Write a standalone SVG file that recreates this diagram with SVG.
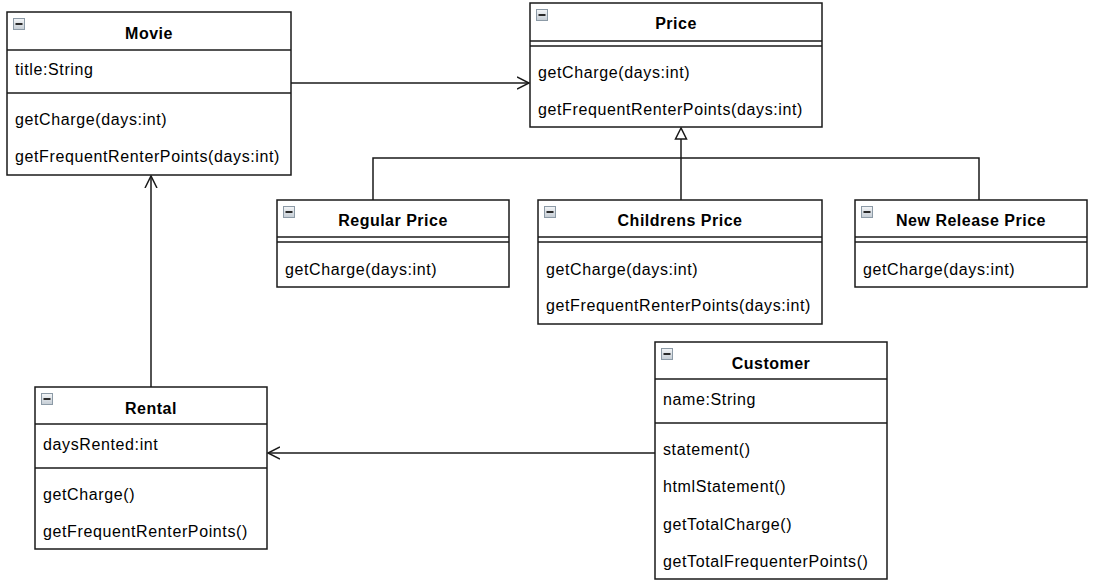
<svg xmlns="http://www.w3.org/2000/svg" width="1094" height="586" viewBox="0 0 1094 586">
<style>
.box{fill:#fff;stroke:#1a1a1a;stroke-width:1.5}
.sep{stroke:#1a1a1a;stroke-width:1.5;fill:none}
.t{font-family:"Liberation Sans",Arial,sans-serif;font-size:16px;letter-spacing:0.62px;fill:#000}
.h{font-family:"Liberation Sans",Arial,sans-serif;font-size:16px;letter-spacing:0.5px;font-weight:bold;fill:#000;text-anchor:middle}
.edge{stroke:#1a1a1a;stroke-width:1.5;fill:none}
</style>
<defs>
<linearGradient id="ig" x1="0" y1="0" x2="0" y2="1">
<stop offset="0" stop-color="#f4f6f8"/>
<stop offset="1" stop-color="#c4ccd4"/>
</linearGradient>
<g id="icon">
<rect x="0.5" y="0.5" width="11" height="11" fill="url(#ig)" stroke="#8c9aa6" stroke-width="1"/>
<rect x="2.5" y="5" width="7" height="2" fill="#2a2a2a"/>
</g>
<marker id="open" markerWidth="14" markerHeight="14" refX="12" refY="7" orient="auto" markerUnits="userSpaceOnUse">
<path d="M0,1 L12,7 L0,13" fill="none" stroke="#1a1a1a" stroke-width="1.5"/>
</marker>
</defs>

<g id="connectors">
<line class="edge" x1="291" y1="83" x2="529" y2="83" marker-end="url(#open)"/>
<line class="edge" x1="151" y1="387" x2="151" y2="176" marker-end="url(#open)"/>
<line class="edge" x1="655" y1="453" x2="268" y2="453" marker-end="url(#open)"/>
<polygon points="681,128 675.5,139 686.5,139" fill="#fff" stroke="#1a1a1a" stroke-width="1.5"/>
<line class="edge" x1="681" y1="139" x2="681" y2="200"/>
<polyline class="edge" points="373,200 373,158 979,158 979,200"/>
</g>

<g id="movie">
<rect class="box" x="7" y="12" width="284" height="163"/>
<line class="sep" x1="7" y1="50" x2="291" y2="50"/>
<line class="sep" x1="7" y1="93" x2="291" y2="93"/>
<use href="#icon" x="13" y="18"/>
<text class="h" x="149" y="39">Movie</text>
<text class="t" x="15" y="75">title:String</text>
<text class="t" x="15" y="125">getCharge(days:int)</text>
<text class="t" x="15" y="162">getFrequentRenterPoints(days:int)</text>
</g>

<g id="price">
<rect class="box" x="530" y="3" width="292" height="124"/>
<line class="sep" x1="530" y1="41" x2="822" y2="41"/>
<line class="sep" x1="530" y1="46" x2="822" y2="46"/>
<use href="#icon" x="536" y="9"/>
<text class="h" x="676" y="29">Price</text>
<text class="t" x="538" y="78">getCharge(days:int)</text>
<text class="t" x="538" y="115">getFrequentRenterPoints(days:int)</text>
</g>

<g id="regular-price">
<rect class="box" x="277" y="200" width="232" height="87"/>
<line class="sep" x1="277" y1="237" x2="509" y2="237"/>
<line class="sep" x1="277" y1="242" x2="509" y2="242"/>
<use href="#icon" x="283" y="206"/>
<text class="h" x="393" y="226">Regular Price</text>
<text class="t" x="285" y="275">getCharge(days:int)</text>
</g>

<g id="childrens-price">
<rect class="box" x="538" y="200" width="284" height="124"/>
<line class="sep" x1="538" y1="237" x2="822" y2="237"/>
<line class="sep" x1="538" y1="242" x2="822" y2="242"/>
<use href="#icon" x="544" y="206"/>
<text class="h" x="680" y="226">Childrens Price</text>
<text class="t" x="546" y="275">getCharge(days:int)</text>
<text class="t" x="546" y="311">getFrequentRenterPoints(days:int)</text>
</g>

<g id="new-release-price">
<rect class="box" x="855" y="200" width="232" height="87"/>
<line class="sep" x1="855" y1="237" x2="1087" y2="237"/>
<line class="sep" x1="855" y1="242" x2="1087" y2="242"/>
<use href="#icon" x="861" y="206"/>
<text class="h" x="971" y="226">New Release Price</text>
<text class="t" x="863" y="275">getCharge(days:int)</text>
</g>

<g id="rental">
<rect class="box" x="35" y="387" width="232" height="162"/>
<line class="sep" x1="35" y1="424" x2="267" y2="424"/>
<line class="sep" x1="35" y1="468" x2="267" y2="468"/>
<use href="#icon" x="41" y="393"/>
<text class="h" x="151" y="414">Rental</text>
<text class="t" x="43" y="450">daysRented:int</text>
<text class="t" x="43" y="500">getCharge()</text>
<text class="t" x="43" y="537">getFrequentRenterPoints()</text>
</g>

<g id="customer">
<rect class="box" x="655" y="342" width="232" height="237"/>
<line class="sep" x1="655" y1="379" x2="887" y2="379"/>
<line class="sep" x1="655" y1="423" x2="887" y2="423"/>
<use href="#icon" x="661" y="348"/>
<text class="h" x="771" y="369">Customer</text>
<text class="t" x="663" y="405">name:String</text>
<text class="t" x="663" y="455">statement()</text>
<text class="t" x="663" y="492">htmlStatement()</text>
<text class="t" x="663" y="530">getTotalCharge()</text>
<text class="t" x="663" y="567">getTotalFrequenterPoints()</text>
</g>
</svg>
